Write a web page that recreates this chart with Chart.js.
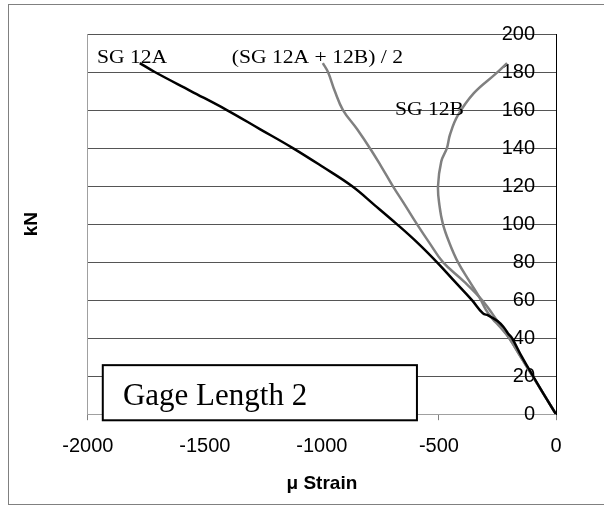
<!DOCTYPE html>
<html>
<head>
<meta charset="utf-8">
<script src="https://cdn.jsdelivr.net/npm/chart.js@4/dist/chart.umd.min.js"></script>
<style>
  html, body { margin: 0; padding: 0; background: #fff; }
  #wrap { width: 604px; height: 508px; }
</style>
</head>
<body>
<div id="wrap"><canvas id="c" width="604" height="508"></canvas></div>
<script>
// ---- Data ----
const sg12aStrain = [0, -50, -98, -145, -188, -205, -225, -250, -290, -312, -359, -434, -509, -590, -680, -775, -872, -995, -1124, -1265, -1406, -1560, -1714, -1778];
const sg12aLoad   = [0, 10, 20, 30, 40, 42.5, 46, 49, 52, 53, 60, 70, 80, 90, 100, 110, 120, 130, 140, 150, 160, 170, 180, 184.7];

const avgStrain = [0, -50, -100, -150, -200, -250, -316, -395, -483, -540, -594, -645, -697, -745, -790, -850, -910, -945, -974, -996];
const avgLoad   = [0, 10, 20, 30, 40, 49, 60, 70, 80, 90, 100, 110, 120, 130, 139, 150, 160, 170, 180, 184.7];

const sg12bStrain = [0, -50, -100, -150, -200, -240, -270, -300, -325, -370, -419, -455, -483, -498, -504, -490, -466, -453, -420, -350, -258, -209];
const sg12bLoad   = [0, 10, 20, 30, 40, 46, 50, 55, 61, 70, 80, 90, 100, 110, 120, 133, 140, 147, 157, 169, 179, 184.7];

const xTicks = [-2000, -1500, -1000, -500, 0];
const yTicks = [0, 20, 40, 60, 80, 100, 120, 140, 160, 180, 200];

const seriesLabels = ['SG 12A', '(SG 12A + 12B) / 2', 'SG 12B'];
const labelAnchors = [[-1961, 184.7], [-1385, 184.7], [-688, 157.4]];
const boxText = 'Gage Length 2';
const boxRange = { x0: -1936, x1: -594, y0: -3.2, y1: 25.8, tx: -1850, ty: 4.7 };

function pts(xs, ys) { return xs.map((x, i) => ({ x: x, y: ys[i] })); }

const annot = {
  id: 'annot',
  beforeDraw(chart) {
    const ctx = chart.ctx;
    ctx.save();
    ctx.fillStyle = '#fff';
    ctx.fillRect(0, 0, chart.width, chart.height);
    ctx.strokeStyle = '#808080';
    ctx.lineWidth = 1;
    ctx.strokeRect(8.5, 4.5, 610, 500);
    ctx.restore();
  },
  afterDatasetsDraw(chart) {
    const ctx = chart.ctx;
    const xs = chart.scales.x, ys = chart.scales.y;
    ctx.save();
    ctx.fillStyle = '#000';
    ctx.textBaseline = 'alphabetic';
    ctx.textAlign = 'left';
    ctx.font = '18px "Liberation Serif", "Times New Roman", serif';
    seriesLabels.forEach((t, i) => {
      const px = xs.getPixelForValue(labelAnchors[i][0]);
      const py = ys.getPixelForValue(labelAnchors[i][1]);
      ctx.save();
      ctx.translate(px, py);
      ctx.scale(1.2, 1);
      ctx.fillText(t, 0, 0);
      ctx.restore();
    });
    // Gage box
    const bx0 = xs.getPixelForValue(boxRange.x0), bx1 = xs.getPixelForValue(boxRange.x1);
    const by0 = ys.getPixelForValue(boxRange.y1), by1 = ys.getPixelForValue(boxRange.y0);
    ctx.fillStyle = '#fff';
    ctx.fillRect(bx0, by0, bx1 - bx0, by1 - by0);
    ctx.strokeStyle = '#000';
    ctx.lineWidth = 2;
    ctx.strokeRect(bx0, by0, bx1 - bx0, by1 - by0);
    ctx.fillStyle = '#000';
    ctx.font = '31px "Liberation Serif", "Times New Roman", serif';
    ctx.fillText(boxText, xs.getPixelForValue(boxRange.tx), ys.getPixelForValue(boxRange.ty));
    ctx.restore();
  }
};

const tickFont = { family: '"Liberation Sans", Arial, sans-serif', size: 20 };
const plain = v => String(v);

new Chart(document.getElementById('c'), {
  type: 'scatter',
  data: {
    datasets: [
      { label: seriesLabels[0], data: pts(sg12aStrain, sg12aLoad), showLine: true, borderColor: '#000000', borderWidth: 2.5, pointRadius: 0, tension: 0.4, yAxisID: 'y' },
      { label: seriesLabels[1], data: pts(avgStrain, avgLoad), showLine: true, borderColor: '#808080', borderWidth: 2.5, pointRadius: 0, tension: 0.4, yAxisID: 'y' },
      { label: seriesLabels[2], data: pts(sg12bStrain, sg12bLoad), showLine: true, borderColor: '#808080', borderWidth: 2.5, pointRadius: 0, tension: 0.4, yAxisID: 'y' }
    ]
  },
  options: {
    responsive: false,
    animation: false,
    layout: { padding: { left: 8, right: 48, top: 34, bottom: 7 } },
    plugins: { legend: { display: false }, tooltip: { enabled: false } },
    scales: {
      x: {
        type: 'linear', min: -2000, max: 0,
        afterBuildTicks(s) { s.ticks = xTicks.map(v => ({ value: v })); },
        ticks: { color: '#000', font: tickFont, padding: 14, maxRotation: 0, callback: plain },
        grid: { drawOnChartArea: false, drawTicks: true, tickLength: 6, color: '#808080' },
        border: { display: true, color: '#a0a0a0', width: 1 },
        title: { display: true, text: 'μ Strain', color: '#000', font: { family: '"Liberation Sans", Arial, sans-serif', size: 19, weight: 'bold' }, padding: { top: 0, bottom: 6 } }
      },
      y: {
        type: 'linear', position: 'right', min: 0, max: 200,
        afterBuildTicks(s) { s.ticks = yTicks.map(v => ({ value: v })); },
        afterFit(s) { s.width = 0; },
        ticks: { color: '#000', font: tickFont, mirror: true, padding: -21, callback: plain },
        grid: { drawTicks: false, color: '#555', lineWidth: 1 },
        border: { display: true, color: '#000', width: 1 }
      },
      yL: {
        type: 'linear', position: 'left', min: 0, max: 200,
        ticks: { display: false },
        grid: { display: false, drawTicks: false },
        border: { display: true, color: '#a0a0a0', width: 1 },
        title: { display: true, text: 'kN', color: '#000', font: { family: '"Liberation Sans", Arial, sans-serif', size: 19, weight: 'bold' }, padding: { top: 12, bottom: 45 } }
      }
    }
  },
  plugins: [annot]
});
</script>
</body>
</html>
